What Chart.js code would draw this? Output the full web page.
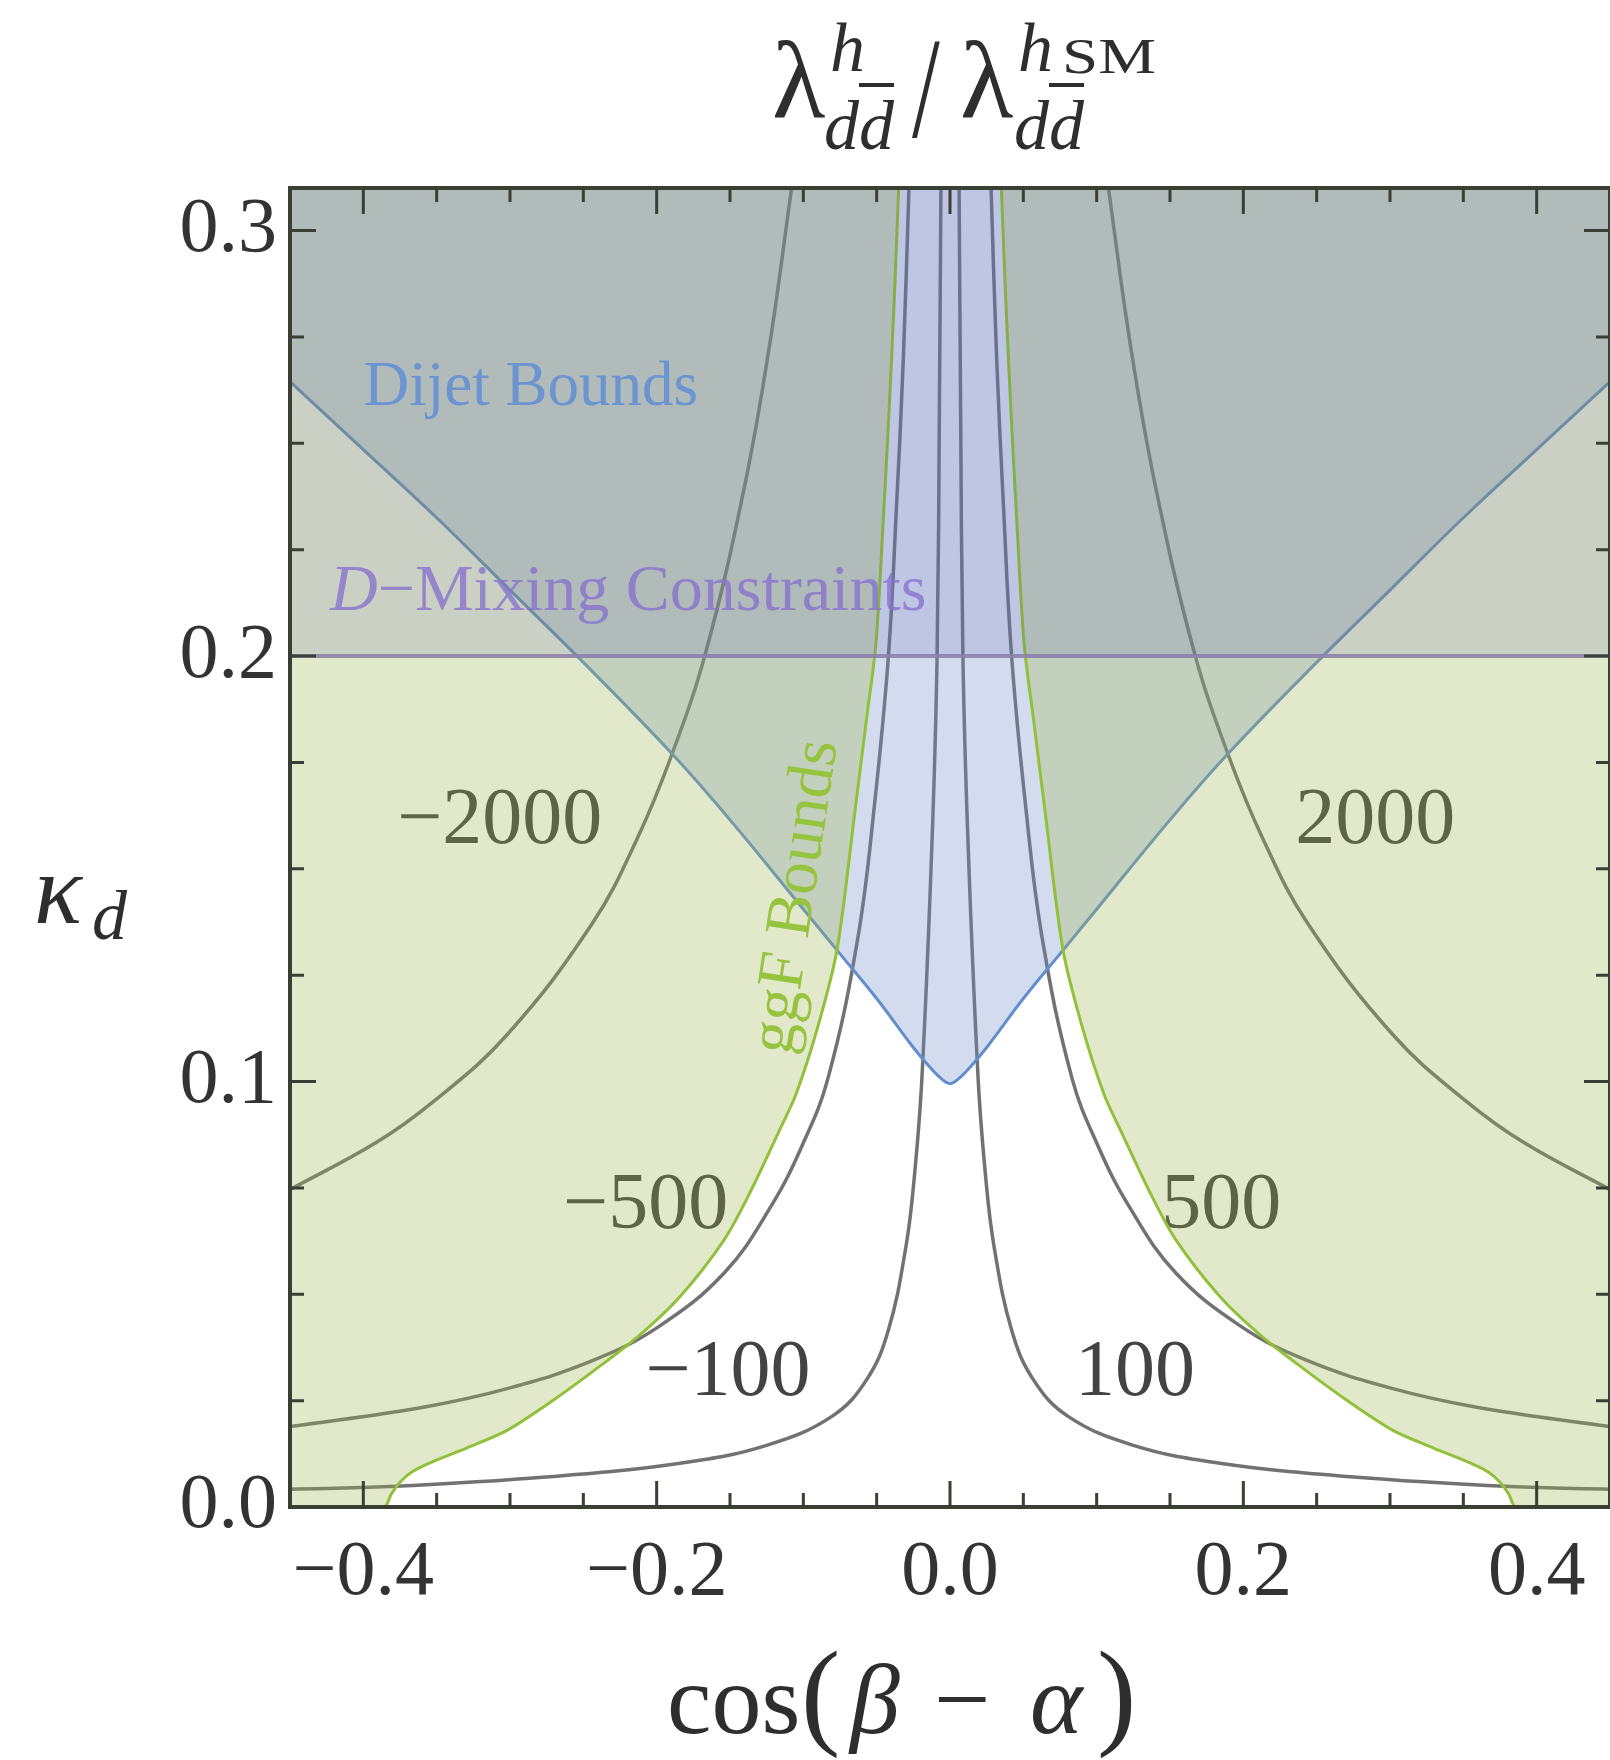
<!DOCTYPE html>
<html>
<head>
<meta charset="utf-8">
<script src="https://cdn.jsdelivr.net/npm/chart.js@4.4.1/dist/chart.umd.min.js"></script>
<style>
  body { margin: 0; background: #fff; }
  #wrap { position: relative; width: 1610px; height: 1760px; }
  .t { position: absolute; font-family: "Liberation Serif", "DejaVu Serif", serif; line-height: 1; white-space: nowrap; color: #2e2e2e; }
  .i { font-style: italic; }
  .bar { text-decoration: overline; text-decoration-thickness: 4px; }
</style>
</head>
<body>
<div id="wrap">
  <canvas id="chart" width="1610" height="1760"></canvas>

  <!-- title: lambda^h_{d dbar} / lambda^{h SM}_{d dbar} -->
  <span class="t" style="left:772px;top:26px;font-size:110px">λ</span>
  <span class="t i" style="left:830px;top:13px;font-size:70px">h</span>
  <span class="t i" style="left:824px;top:91px;font-size:70px">d<span class="bar">d</span></span>
  <span class="t" style="left:912px;top:54px;font-size:100px;transform:scaleY(1.45);transform-origin:50% 84px">/</span>
  <span class="t" style="left:960px;top:26px;font-size:110px">λ</span>
  <span class="t i" style="left:1018px;top:13px;font-size:70px">h</span>
  <span class="t" style="left:1062px;top:31px;font-size:50px;transform:scaleX(1.3);transform-origin:0 0">SM</span>
  <span class="t i" style="left:1014px;top:91px;font-size:70px">d<span class="bar">d</span></span>

  <!-- y axis label -->
  <span class="t i" style="left:34px;top:840px;font-size:100px">κ</span>
  <span class="t i" style="left:92px;top:881px;font-size:70px">d</span>

  <!-- x axis label -->
  <span class="t" style="left:667px;top:1650px;font-size:100px">cos</span>
  <span class="t" style="left:801px;top:1635px;font-size:118px">(</span>
  <span class="t i" style="left:850px;top:1650px;font-size:100px">β</span>
  <span class="t" style="left:934px;top:1650px;font-size:100px">−</span>
  <span class="t i" style="left:1030px;top:1650px;font-size:100px">α</span>
  <span class="t" style="left:1097px;top:1635px;font-size:118px">)</span>
</div>

<script>
// axis ranges and ticks
const xMin = -0.45, xMax = 0.45
const yMin = 0, yMax = 0.31
const xMajorTicks = [-0.4, -0.2, 0, 0.2, 0.4]
const xTickLabels = ["−0.4", "−0.2", "0.0", "0.2", "0.4"]
const xMinorTicks = [-0.35, -0.3, -0.25, -0.15, -0.1, -0.05, 0.05, 0.1, 0.15, 0.25, 0.3, 0.35]
const yMajorTicks = [0, 0.1, 0.2, 0.3]
const yTickLabels = ["0.0", "0.1", "0.2", "0.3"]
const yMinorTicks = [0.025, 0.05, 0.075, 0.125, 0.15, 0.175, 0.225, 0.25, 0.275]

// ggF bound (green curve)
const ggfLeft = [[-0.45, 0], [-0.386, 0], [-0.381, 0.003], [-0.375, 0.0058], [-0.367, 0.0082], [-0.355, 0.0103],
  [-0.33, 0.0138], [-0.302, 0.018], [-0.273, 0.0245], [-0.243, 0.032], [-0.213, 0.040], [-0.184, 0.0495],
  [-0.154, 0.0628], [-0.1365, 0.0738], [-0.117, 0.088], [-0.105, 0.097], [-0.090, 0.113], [-0.077, 0.131],
  [-0.065, 0.163], [-0.057, 0.185], [-0.0505, 0.203], [-0.0455, 0.232], [-0.0415, 0.258], [-0.038, 0.284], [-0.035, 0.31]]
const ggfRight = [[0.035, 0.31], [0.038, 0.284], [0.0415, 0.258], [0.0455, 0.232], [0.0505, 0.203], [0.057, 0.185],
  [0.065, 0.163], [0.077, 0.131], [0.090, 0.113], [0.105, 0.097], [0.117, 0.088], [0.1365, 0.0738], [0.154, 0.0628],
  [0.184, 0.0495], [0.213, 0.040], [0.243, 0.032], [0.273, 0.0245], [0.302, 0.018], [0.33, 0.0138], [0.355, 0.0103],
  [0.367, 0.0082], [0.375, 0.0058], [0.381, 0.003], [0.386, 0], [0.45, 0]]

// dijet bound (blue V)
const dijet = [[-0.45, 0.2645], [-0.4, 0.2485], [-0.35, 0.2325], [-0.3, 0.2155], [-0.25, 0.1985], [-0.19, 0.1772],
  [-0.15, 0.1615], [-0.1, 0.1405], [-0.075, 0.130], [-0.05, 0.1195], [-0.025, 0.108], [-0.012, 0.1027], [-0.005, 0.1004],
  [0, 0.0995], [0.005, 0.1004], [0.012, 0.1027], [0.025, 0.108], [0.05, 0.1195], [0.075, 0.130], [0.1, 0.1405],
  [0.15, 0.1615], [0.19, 0.1772], [0.25, 0.1985], [0.3, 0.2155], [0.35, 0.2325], [0.4, 0.2485], [0.45, 0.2645]]

// D-mixing constraint
const dMixing = [[-0.45, 0.2], [0.45, 0.2]]

// contours of the coupling ratio
const contourP100 = [[0.0062, 0.31], [0.0072, 0.26], [0.0088, 0.2], [0.0122, 0.157], [0.0192, 0.1005], [0.0245, 0.0769],
  [0.030, 0.0613], [0.042, 0.0416], [0.0567, 0.030], [0.0805, 0.0213], [0.125, 0.0145], [0.184, 0.0103], [0.273, 0.0071],
  [0.382, 0.0048], [0.45, 0.0042]]
const contourM100 = [[-0.45, 0.0042], [-0.382, 0.0048], [-0.273, 0.0071], [-0.184, 0.0103], [-0.125, 0.0145],
  [-0.0805, 0.0213], [-0.0567, 0.030], [-0.042, 0.0416], [-0.030, 0.0613], [-0.0245, 0.0769], [-0.0192, 0.1005],
  [-0.0122, 0.157], [-0.0088, 0.2], [-0.0072, 0.26], [-0.0062, 0.31]]
const contourP500 = [[0.028, 0.31], [0.0318, 0.27], [0.0365, 0.235], [0.042, 0.2], [0.0515, 0.165], [0.063, 0.1334],
  [0.0834, 0.1005], [0.101, 0.0848], [0.122, 0.0707], [0.154, 0.055], [0.1986, 0.0424], [0.243, 0.0345], [0.30, 0.0280],
  [0.36, 0.0234], [0.45, 0.0189]]
const contourM500 = [[-0.45, 0.0189], [-0.36, 0.0234], [-0.30, 0.0280], [-0.243, 0.0345], [-0.1986, 0.0424], [-0.154, 0.055],
  [-0.122, 0.0707], [-0.101, 0.0848], [-0.0834, 0.1005], [-0.063, 0.1334], [-0.0515, 0.165], [-0.042, 0.2],
  [-0.0365, 0.235], [-0.0318, 0.27], [-0.028, 0.31]]
const contourP2000 = [[0.108, 0.31], [0.1234, 0.2722], [0.14, 0.24], [0.1663, 0.2012], [0.19, 0.1765], [0.2134, 0.157],
  [0.2436, 0.1373], [0.302, 0.111], [0.3525, 0.0952], [0.391, 0.0857], [0.45, 0.0746]]
const contourM2000 = [[-0.45, 0.0746], [-0.391, 0.0857], [-0.3525, 0.0952], [-0.302, 0.111], [-0.2436, 0.1373],
  [-0.2134, 0.157], [-0.19, 0.1765], [-0.1663, 0.2012], [-0.14, 0.24], [-0.1234, 0.2722], [-0.108, 0.31]]

// contour labels (text and anchor in data units)
const contourLabels = [
  {text: "−2000", x: -0.307, y: 0.161},
  {text: "2000", x: 0.290, y: 0.161},
  {text: "−500", x: -0.2075, y: 0.0705},
  {text: "500", x: 0.185, y: 0.0705},
  {text: "−100", x: -0.1514, y: 0.0313},
  {text: "100", x: 0.1261, y: 0.0313}
]

const contourColor = "#727272"
const frameColor = "#3a3f33"

const toPoints = (arr) => arr.map(([x, y]) => ({x: x, y: y}))

const curve = (data, color, width, order) => ({
  data: toPoints(data),
  showLine: true,
  pointRadius: 0,
  borderColor: color,
  borderWidth: width,
  tension: 0.4,
  fill: false,
  order: order
})

// Contour labels go under the fills, like the contour lines
const labelsUnder = {
  id: "labelsUnder",
  beforeDatasetsDraw(chart) {
    const {ctx, scales: {x, y}} = chart
    ctx.save()
    ctx.font = '80px "Liberation Serif"'
    ctx.fillStyle = "#434343"
    ctx.textAlign = "center"
    ctx.textBaseline = "middle"
    contourLabels.forEach((l) => {
      ctx.fillText(l.text, x.getPixelForValue(l.x), y.getPixelForValue(l.y))
    })
    ctx.restore()
  }
}

// Region names, frame and inward ticks on all four sides
const frameAndNames = {
  id: "frameAndNames",
  afterDraw(chart) {
    const {ctx, chartArea: a, scales: {x, y}} = chart
    ctx.save()

    ctx.font = '63px "Liberation Serif"'
    ctx.textBaseline = "alphabetic"
    ctx.textAlign = "center"
    ctx.fillStyle = "rgb(108,148,208)"
    ctx.fillText("Dijet Bounds", x.getPixelForValue(-0.2857), y.getPixelForValue(0.259))

    // "D−Mixing Constraints", D in italics
    ctx.textAlign = "left"
    ctx.fillStyle = "rgba(135,115,205,0.8)"
    let px = x.getPixelForValue(-0.4227)
    const py = y.getPixelForValue(0.2108)
    ctx.font = 'italic 66px "Liberation Serif"'
    ctx.fillText("D", px, py)
    px += ctx.measureText("D").width
    ctx.font = '66px "Liberation Serif"'
    ctx.fillText("−Mixing Constraints", px, py)

    // "ggF Bounds", running up along the green curve
    ctx.save()
    ctx.translate(x.getPixelForValue(-0.1045), y.getPixelForValue(0.1434))
    ctx.rotate(-81.5 * Math.PI / 180)
    ctx.font = '65px "Liberation Serif"'
    ctx.textAlign = "center"
    ctx.textBaseline = "middle"
    ctx.fillStyle = "rgb(150,196,62)"
    ctx.fillText("ggF Bounds", 0, 0)
    ctx.restore()

    // ticks
    ctx.strokeStyle = frameColor
    ctx.lineWidth = 3
    ctx.beginPath()
    const xTick = (v, len) => {
      const p = x.getPixelForValue(v)
      ctx.moveTo(p, a.bottom); ctx.lineTo(p, a.bottom - len)
      ctx.moveTo(p, a.top); ctx.lineTo(p, a.top + len)
    }
    const yTick = (v, len) => {
      const p = y.getPixelForValue(v)
      ctx.moveTo(a.left, p); ctx.lineTo(a.left + len, p)
      ctx.moveTo(a.right, p); ctx.lineTo(a.right - len, p)
    }
    xMajorTicks.forEach((v) => xTick(v, 26))
    xMinorTicks.forEach((v) => xTick(v, 14))
    yMajorTicks.forEach((v) => yTick(v, 26))
    yMinorTicks.forEach((v) => yTick(v, 14))
    ctx.stroke()

    ctx.lineWidth = 4
    ctx.strokeRect(a.left, a.top, a.right - a.left, a.bottom - a.top)
    ctx.restore()
  }
}

const tickFont = {family: '"Liberation Serif"', size: 78}

new Chart(document.getElementById("chart"), {
  type: "scatter",
  data: {
    datasets: [
      // contours first (drawn underneath the shaded regions)
      curve(contourM2000, contourColor, 3.5, 10),
      curve(contourP2000, contourColor, 3.5, 10),
      curve(contourM500, contourColor, 3.5, 10),
      curve(contourP500, contourColor, 3.5, 10),
      curve(contourM100, contourColor, 3.5, 10),
      curve(contourP100, contourColor, 3.5, 10),
      Object.assign(curve(dijet, "rgb(98,142,205)", 3, 9), {fill: "end", backgroundColor: "rgba(105,138,198,0.3)"}),
      Object.assign(curve(ggfLeft, "rgb(145,192,58)", 3, 8), {fill: "end", backgroundColor: "rgba(158,178,78,0.3)", tension: 0.3}),
      Object.assign(curve(ggfRight, "rgb(145,192,58)", 3, 8), {fill: "end", backgroundColor: "rgba(158,178,78,0.3)", tension: 0.3}),
      Object.assign(curve(dMixing, "rgba(140,130,170,0.9)", 4, 7), {fill: "end", backgroundColor: "rgba(77,73,158,0.15)", tension: 0})
    ]
  },
  options: {
    responsive: false,
    animation: false,
    devicePixelRatio: 1,
    layout: {padding: {top: 188, right: 0, left: 0, bottom: 0}},
    plugins: {
      legend: {display: false},
      tooltip: {enabled: false}
    },
    scales: {
      x: {
        type: "linear",
        min: xMin,
        max: xMax,
        grid: {display: false},
        border: {display: false},
        afterBuildTicks: (scale) => { scale.ticks = xMajorTicks.map((v) => ({value: v})) },
        afterFit: (scale) => { scale.height = 253 },
        ticks: {
          font: tickFont,
          color: "#333",
          padding: 12,
          autoSkip: false,
          maxRotation: 0,
          callback: (value) => xTickLabels[xMajorTicks.indexOf(value)]
        }
      },
      y: {
        type: "linear",
        min: yMin,
        max: yMax,
        grid: {display: false},
        border: {display: false},
        afterBuildTicks: (scale) => { scale.ticks = yMajorTicks.map((v) => ({value: v})) },
        afterFit: (scale) => { scale.width = 290 },
        ticks: {
          font: tickFont,
          color: "#333",
          padding: 5,
          autoSkip: false,
          callback: (value) => yTickLabels[yMajorTicks.indexOf(value)]
        }
      }
    }
  },
  plugins: [labelsUnder, frameAndNames]
})
</script>
</body>
</html>
